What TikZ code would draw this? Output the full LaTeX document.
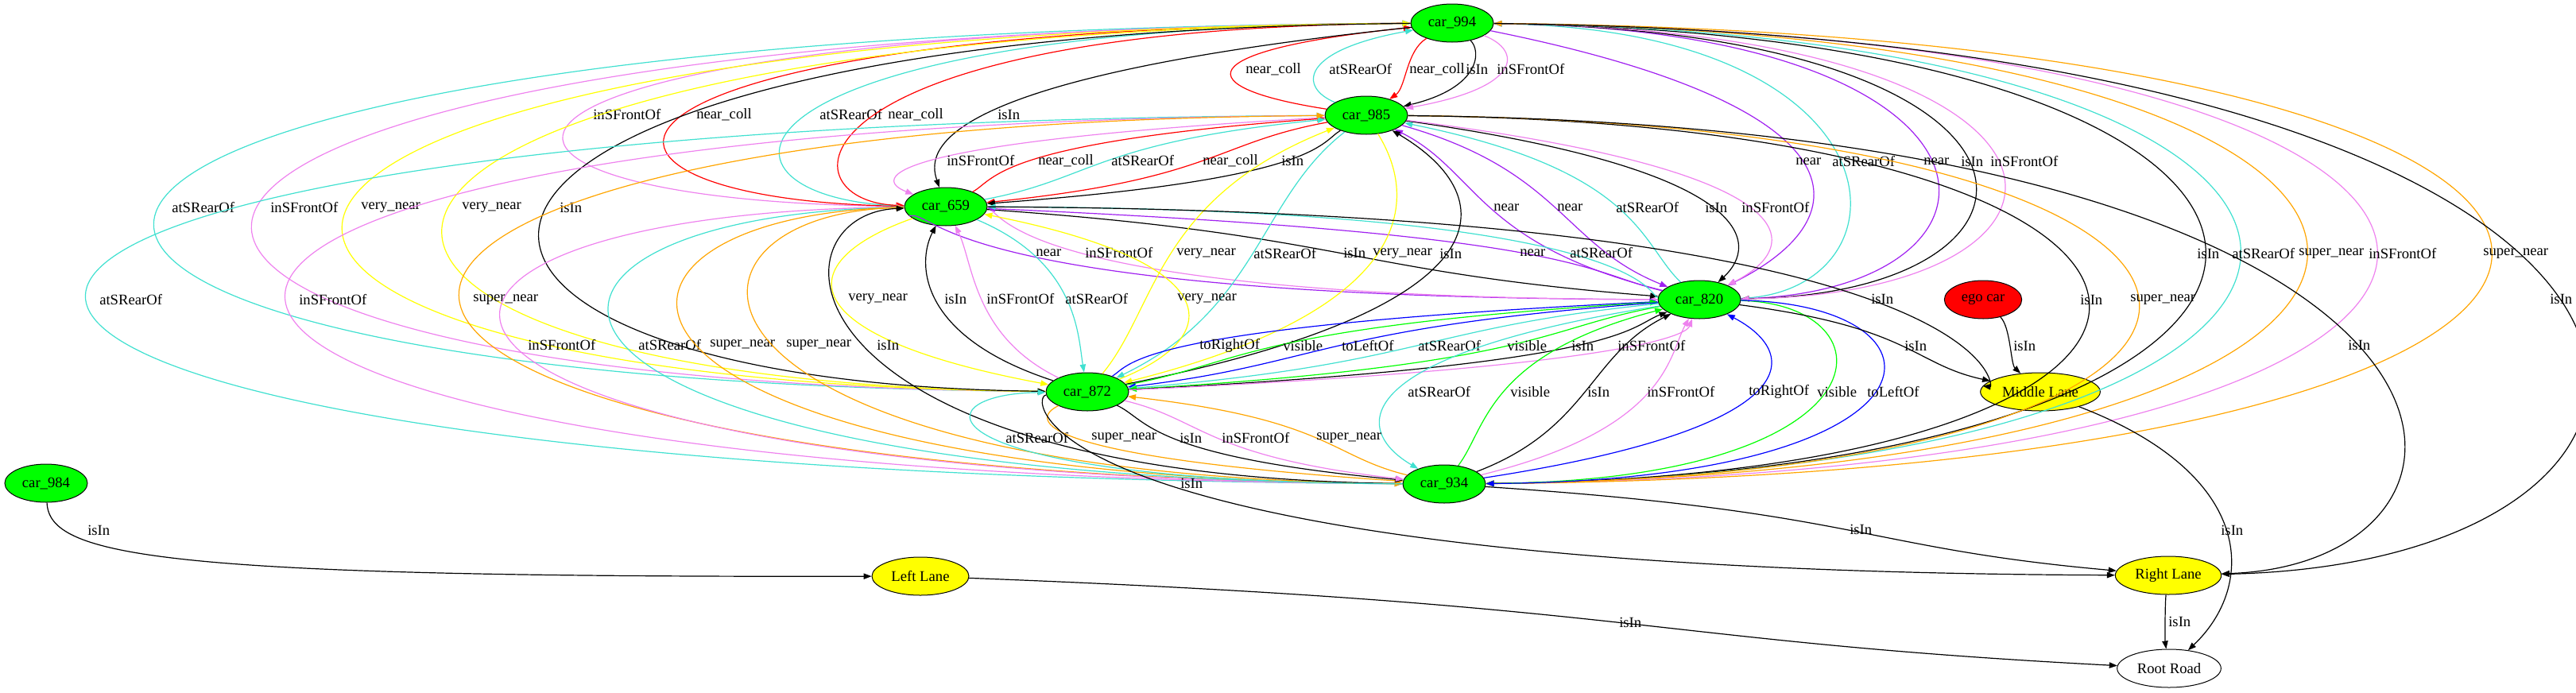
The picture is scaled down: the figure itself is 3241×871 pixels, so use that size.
\documentclass[tikz,border=0pt]{standalone}
\usepackage{fontspec}
\setmainfont{Liberation Serif}
\usepackage{xcolor}
\usetikzlibrary{shapes.geometric,arrows.meta,calc}
\begin{document}
\begin{tikzpicture}[x=0.75pt,y=-0.75pt,font=\fontsize{14}{16}\selectfont,
  carnode/.style={ellipse,draw,line width=0.75pt,fill=gvgreen,minimum width=78pt,minimum height=36pt,inner sep=0pt},
  lanenode/.style={ellipse,draw,line width=0.75pt,fill=gvyellow,minimum height=36pt,inner sep=0pt},
  rel/.style={line width=0.9pt,-{Triangle[length=7.5pt,width=5.5pt]}},
  rellabel/.style={anchor=west,inner sep=0pt}]
\definecolor{gvgreen}{HTML}{00FF00}
\definecolor{gvyellow}{HTML}{FFFF00}
\definecolor{gvred}{HTML}{FF0000}
\definecolor{gvturq}{HTML}{40E0D0}
\definecolor{gvviolet}{HTML}{EE82EE}
\definecolor{gvpurple}{HTML}{A020F0}
\definecolor{gvorange}{HTML}{FFA500}
\definecolor{gvblue}{HTML}{0000FF}
\useasboundingbox (0,0) rectangle (3241,871);
\node[carnode] (c994) at (1827,29) {car\_994};
\node[carnode] (c985) at (1719,145) {car\_985};
\node[carnode] (c659) at (1190,260) {car\_659};
\node[carnode] (c820) at (2138,377) {car\_820};
\node[ellipse,draw,line width=0.75pt,fill=gvred,minimum width=73pt,minimum height=36pt,inner sep=0pt] (ego) at (2495,377) {ego car};
\node[carnode] (c872) at (1368,493) {car\_872};
\node[lanenode,minimum width=113pt] (mlane) at (2567,493) {Middle Lane};
\node[carnode] (c934) at (1817,609) {car\_934};
\node[carnode] (c984) at (58,608) {car\_984};
\node[lanenode,minimum width=91.5pt] (llane) at (1158,725) {Left Lane};
\node[lanenode,minimum width=100pt] (rlane) at (2728,724) {Right Lane};
\node[ellipse,draw,line width=0.75pt,minimum width=98pt,minimum height=36pt,inner sep=0pt] (road) at (2729,841) {Root Road};
% source/target/label x/colour/label
\foreach \src/\tgt/\wx/\clr/\txt in {
  c985/c994/1567/gvred/near\_coll, c985/c994/1672/gvturq/atSRearOf,
  c994/c985/1773/gvred/near\_coll, c994/c985/1844/black/isIn,
  c994/c985/1883/gvviolet/inSFrontOf,
  c994/c659/746/gvviolet/inSFrontOf, c659/c994/876/gvred/near\_coll,
  c659/c994/1031/gvturq/atSRearOf, c994/c659/1117/gvred/near\_coll,
  c994/c659/1255/black/isIn,
  c985/c659/1191/gvviolet/inSFrontOf, c659/c985/1306/gvred/near\_coll,
  c659/c985/1398/gvturq/atSRearOf, c985/c659/1513/gvred/near\_coll,
  c985/c659/1612/black/isIn,
  c994/c820/2259/gvpurple/near, c820/c994/2305/gvturq/atSRearOf,
  c820/c994/2420/gvpurple/near, c994/c820/2467/black/isIn,
  c994/c820/2504/gvviolet/inSFrontOf,
  c872/c994/216/gvturq/atSRearOf, c994/c872/340/gvviolet/inSFrontOf,
  c872/c994/454/gvyellow/very\_near, c994/c872/581/gvyellow/very\_near,
  c994/c872/704/black/isIn,
  c820/c985/1879/gvpurple/near, c985/c820/1959/gvpurple/near,
  c820/c985/2033/gvturq/atSRearOf, c985/c820/2145/black/isIn,
  c985/c820/2191/gvviolet/inSFrontOf,
  c994/c934/2764/black/isIn, c934/c994/2808/gvturq/atSRearOf,
  c934/c994/2892/gvorange/super\_near, c994/c934/2980/gvviolet/inSFrontOf,
  c994/c934/3124/gvorange/super\_near,
  c659/c820/1303/gvpurple/near, c659/c820/1365/gvviolet/inSFrontOf,
  c659/c820/1690/black/isIn, c820/c659/1912/gvpurple/near,
  c820/c659/1975/gvturq/atSRearOf,
  c872/c985/1480/gvyellow/very\_near, c985/c872/1577/gvturq/atSRearOf,
  c985/c872/1727/gvyellow/very\_near, c872/c985/1811/black/isIn,
  c934/c985/125/gvturq/atSRearOf, c985/c934/376/gvviolet/inSFrontOf,
  c934/c985/595/gvorange/super\_near, c985/c934/2617/black/isIn,
  c985/c934/2680/gvorange/super\_near,
  c659/c872/1067/gvyellow/very\_near, c872/c659/1188/black/isIn,
  c872/c659/1241/gvviolet/inSFrontOf, c659/c872/1340/gvturq/atSRearOf,
  c872/c659/1481/gvyellow/very\_near,
  c934/c659/664/gvviolet/inSFrontOf, c659/c934/803/gvturq/atSRearOf,
  c659/c934/893/gvorange/super\_near, c934/c659/989/gvorange/super\_near,
  c934/c659/1103/black/isIn,
  c872/c820/1509/gvblue/toRightOf, c872/c820/1614/gvgreen/visible,
  c820/c872/1688/gvblue/toLeftOf, c820/c872/1784/gvturq/atSRearOf,
  c820/c872/1896/gvgreen/visible, c872/c820/1977/black/isIn,
  c872/c820/2035/gvviolet/inSFrontOf,
  c820/c934/1771/gvturq/atSRearOf, c934/c820/1900/gvgreen/visible,
  c934/c820/1997/black/isIn, c934/c820/2072/gvviolet/inSFrontOf,
  c934/c820/2200/gvblue/toRightOf, c820/c934/2286/gvgreen/visible,
  c820/c934/2349/gvblue/toLeftOf,
  c934/c872/1265/gvturq/atSRearOf, c872/c934/1373/gvorange/super\_near,
  c872/c934/1484/black/isIn, c872/c934/1537/gvviolet/inSFrontOf,
  c934/c872/1656/gvorange/super\_near,
  c994/rlane/3208/black/isIn, c985/rlane/2954/black/isIn,
  c659/mlane/2354/black/isIn, c820/mlane/2396/black/isIn,
  ego/mlane/2533/black/isIn, c872/rlane/1485/black/isIn,
  c934/rlane/2327/black/isIn,
  mlane/road/2794/black/isIn, llane/road/2037/black/isIn,
  rlane/road/2728/black/isIn}
{ \draw[rel,draw=\clr] let \p1=(\src), \p2=(\tgt), \n1={(\wx-3)*1pt-(\x1+\x2)/6},
    \n4={abs((\wx-3)*0.75pt-(\x1+\x2)/2)>225pt ? 0.05 : 0.6},
    \n2={\y1+\n4*(\y2-\y1)/2}, \n3={\y2+\n4*(\y1-\y2)/2} in
    (\src) .. controls (\n1,\n2) and (\n1,\n3) .. (\tgt);
  \path let \p1=(\src), \p2=(\tgt) in node[rellabel] at ({\wx*0.75pt},{(\y1+\y2)/2}) {\txt};}
\draw[rel] (c984) .. controls (62,700) and (200,727) .. (llane);
\node[rellabel] (lbl984) at (110,667) {isIn};
\end{tikzpicture}
\end{document}
